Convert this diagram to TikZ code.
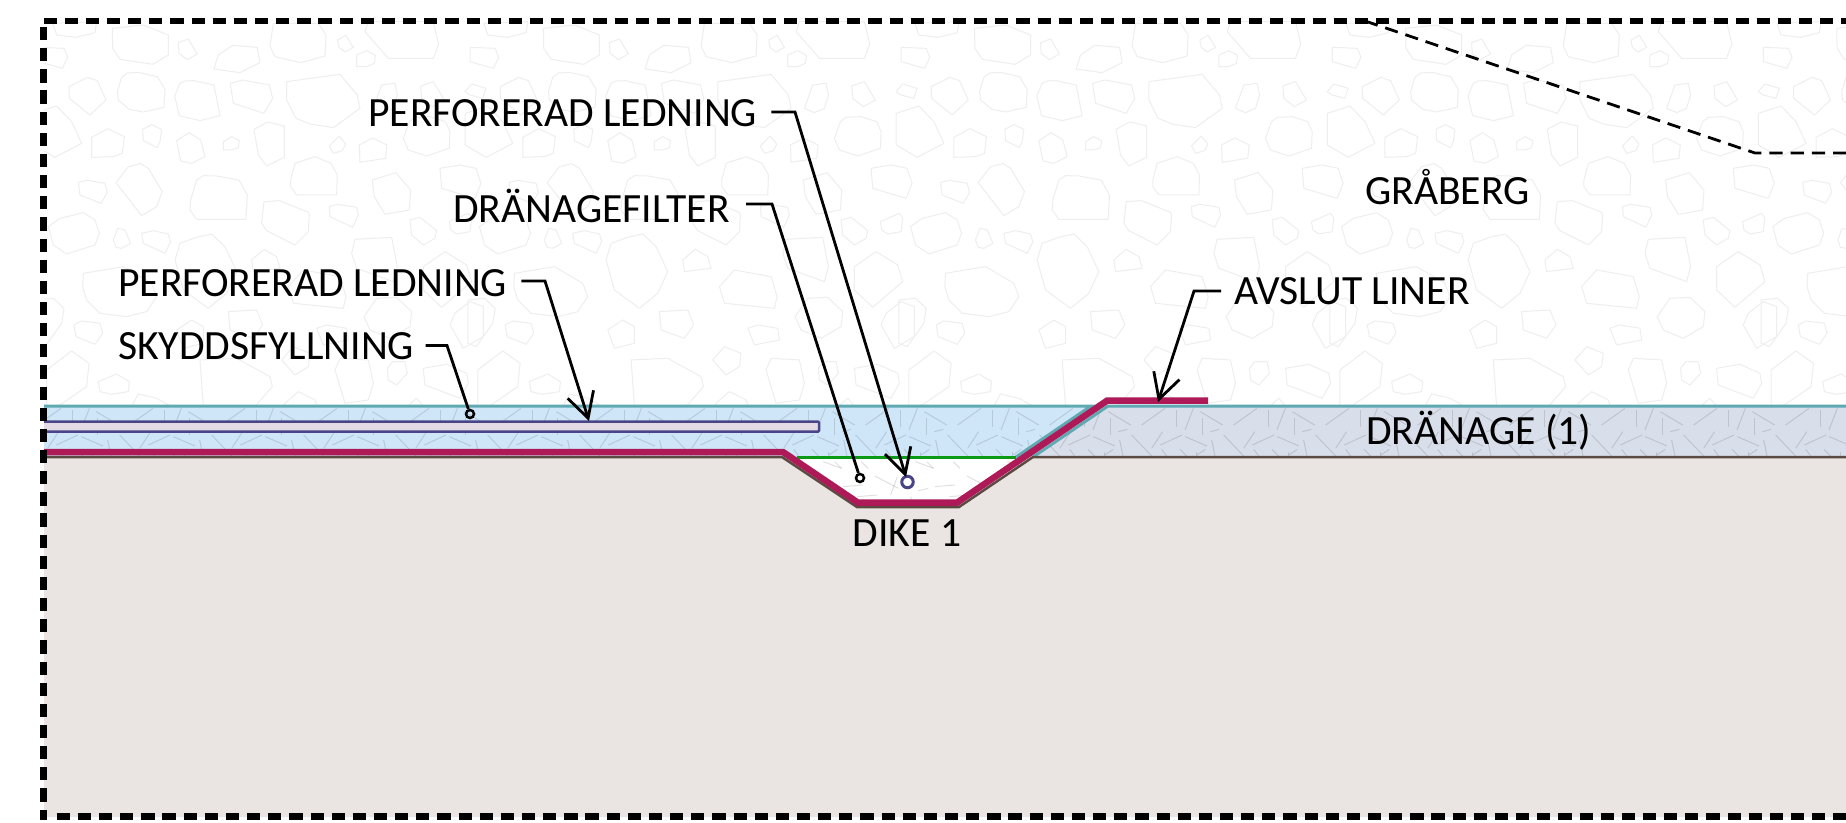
\documentclass[tikz,border=0pt]{standalone}
\usepackage{fontspec}
\setmainfont{Carlito}
\usetikzlibrary{arrows.meta}
\definecolor{rockc}{HTML}{EEEEEE}
\definecolor{bluef}{HTML}{CFE6F8}
\definecolor{grayf}{HTML}{D9DFEA}
\definecolor{groundf}{HTML}{EAE5E2}
\definecolor{tealc}{HTML}{5FA9B3}
\definecolor{linerc}{HTML}{AD1A57}
\definecolor{brownc}{HTML}{5A4A42}
\definecolor{greenc}{HTML}{0A9A14}
\definecolor{pipef}{HTML}{E2DBE4}
\definecolor{pipec}{HTML}{4A4588}
\tikzset{
  x=1pt,y=-1pt,
  framedash/.style={line width=6.5pt,dash pattern=on 13.2pt off 7.95pt},
  rock/.style={draw=rockc,line width=1pt,line join=round},
  hatchl/.style={draw=black,draw opacity=.12,line width=1pt},
  tealln/.style={draw=tealc,line width=3pt},
  liner/.style={draw=linerc,line width=6.5pt,line join=miter},
  soil/.style={draw=brownc,line width=2.5pt,line join=miter},
  leader/.style={draw=black,line width=2.8pt,line join=miter},
  barbed/.style={leader,-{Straight Barb[length=25pt,width=27pt,line width=2.8pt]}},
  lbl/.style={font=\fontsize{41.6}{44}\selectfont,inner sep=0pt,text height=27.4pt,text depth=0pt,text=black},
  dotb/.style={circle,draw=black,line width=2.5pt,fill=none,inner sep=0pt,minimum size=8pt},
  doti/.style={circle,draw=pipec,line width=3pt,fill=white,inner sep=0pt,minimum size=11.5pt},
}
\newcommand{\rp}[1]{\draw[rock] #1 -- cycle;}
\newcommand{\rocktile}{%
\rp{(38,10)--(50,45)--(108,52)--(165,38)--(170,5)}
\rp{(217,25)--(310,15)--(385,45)--(385,105)--(338,133)--(240,118)--(218,85)}
\rp{(415,68)--(445,57)--(472,102)--(442,119)--(417,100)}
\rp{(522,147)--(535,105)--(578,76)--(652,82)--(660,128)--(600,158)}
\rp{(690,78)--(700,10)--(835,10)--(858,45)--(855,108)--(782,128)--(705,110)}
\rp{(893,60)--(918,46)--(940,82)--(915,96)--(897,82)}
\rp{(950,105)--(980,92)--(1006,106)--(1003,130)--(980,140)--(950,140)}
\rp{(975,35)--(985,5)--(1180,5)--(1196,72)--(1180,115)--(1045,115)}
\rp{(-3,82)--(72,85)--(83,112)--(67,145)--(-3,125)}
\rp{(87,200)--(143,172)--(172,182)--(198,240)--(150,285)--(88,235)}
\rp{(232,215)--(245,172)--(262,159)--(295,157)--(352,170)--(375,208)--(372,262)--(310,276)--(268,268)--(235,240)}
\rp{(404,228)--(420,190)--(435,183)--(462,182)--(522,195)--(540,287)--(480,302)--(418,287)}
\rp{(571,190)--(608,180)--(688,195)--(698,235)--(672,280)--(580,250)}
\rp{(740,185)--(900,163)--(952,225)--(960,265)--(880,323)--(810,312)--(768,295)--(740,240)}
\rp{(1275,215)--(1295,192)--(1338,205)--(1328,235)--(1290,225)}
\rp{(1000,265)--(1025,195)--(1065,190)--(1072,225)--(1060,265)--(1030,278)}
\rp{(1142,198)--(1180,185)--(1213,240)--(1177,260)--(1145,235)}
\rp{(-18,280)--(50,258)--(95,305)--(125,370)--(45,412)--(-18,375)}
\rp{(155,352)--(203,326)--(253,350)--(247,400)--(220,410)--(155,412)}
\rp{(308,328)--(335,314)--(365,328)--(360,365)--(352,383)--(310,362)}
\rp{(410,362)--(447,338)--(482,360)--(495,410)--(455,430)--(422,423)}
\rp{(550,365)--(575,350)--(598,362)--(595,383)--(575,390)--(550,390)}
\rp{(642,328)--(683,306)--(733,318)--(733,412)--(680,438)--(655,405)}
\rp{(868,378)--(897,348)--(917,372)--(907,392)--(880,400)}
\rp{(958,375)--(998,354)--(1041,375)--(1037,415)--(960,427)}
\rp{(1090,355)--(1108,305)--(1125,292)--(1170,290)--(1217,305)--(1230,335)--(1228,385)--(1160,408)--(1105,390)}
\rp{(1200,445)--(1260,435)--(1308,445)--(1323,490)--(1305,535)--(1205,505)}
\rp{(115,487)--(142,481)--(195,490)--(202,518)--(183,550)--(120,525)}
\rp{(228,488)--(265,440)--(302,431)--(325,445)--(367,515)--(350,560)--(305,587)}
\rp{(452,540)--(470,480)--(490,467)--(530,468)--(597,480)--(622,525)--(618,598)--(470,598)--(450,570)}
\rp{(752,480)--(765,430)--(825,410)--(873,430)--(892,465)--(890,525)--(770,525)--(752,500)}
\rp{(997,480)--(1068,458)--(1112,510)--(1108,570)--(1035,583)--(1003,530)}
\rp{(665,610)--(672,545)--(718,542)--(805,577)--(808,585)--(805,635)--(765,675)--(680,632)}
\rp{(868,560)--(892,553)--(950,562)--(955,585)--(938,622)--(870,590)}
\rp{(1110,600)--(1140,592)--(1190,632)--(1185,655)--(1150,675)--(1115,645)}
\rp{(1228,605)--(1285,580)--(1295,595)--(1290,635)--(1250,642)--(1232,630)}
\rp{(25,620)--(60,595)--(130,578)--(165,600)--(178,640)--(165,675)--(80,702)--(40,675)}
\rp{(220,660)--(233,625)--(255,630)--(272,670)--(245,685)--(228,682)}
\rp{(305,640)--(340,632)--(385,642)--(392,665)--(375,700)--(310,670)}
\rp{(405,720)--(420,670)--(470,652)--(515,642)--(555,680)--(590,755)--(560,820)--(505,865)--(430,810)}
\rp{(130,760)--(250,740)--(335,790)--(350,830)--(320,875)--(260,890)--(180,880)--(140,840)--(128,800)}
\rp{(635,720)--(672,688)--(710,710)--(720,745)--(640,755)}
\rp{(935,700)--(945,658)--(1055,652)--(1072,740)--(1060,785)--(950,745)}
\rp{(1150,740)--(1215,695)--(1280,735)--(1295,785)--(1205,862)--(1150,810)}
\rp{(745,800)--(760,850)--(910,865)--(918,830)--(900,770)--(790,750)}
\rp{(-10,840)--(40,835)--(72,865)--(65,910)--(15,980)--(-10,970)}
\rp{(972,890)--(1010,835)--(1070,832)--(1115,875)--(1110,920)--(1050,955)--(990,930)}
\rp{(565,875)--(650,870)--(668,915)--(640,955)--(570,930)}
\rp{(102,915)--(125,903)--(180,910)--(188,940)--(165,973)--(108,950)}
\rp{(410,930)--(455,900)--(490,920)--(490,970)--(430,985)}
\rp{(830,925)--(860,915)--(920,925)--(925,960)--(850,975)}
\rp{(725,1020)--(760,980)--(810,1000)--(805,1040)--(765,1065)}
\rp{(20,1160)--(20,1050)--(95,993)--(147,1030)--(140,1100)--(60,1155)}
\rp{(175,1085)--(230,1062)--(268,1085)--(265,1115)--(215,1123)--(180,1115)}
\rp{(480,1020)--(590,1015)--(690,1070)--(697,1100)--(645,1160)--(490,1160)}
\rp{(885,1050)--(900,1015)--(985,1020)--(1000,1090)--(985,1140)--(915,1150)}
\rp{(1042,1045)--(1058,1025)--(1095,1025)--(1102,1060)--(1070,1095)--(1045,1080)}
\rp{(1150,1045)--(1220,1033)--(1280,1060)--(1285,1090)--(1260,1135)--(1155,1095)}
\rp{(275,1170)--(280,1150)--(295,1122)--(350,1135)--(395,1160)--(400,1175)}
\rp{(730,1170)--(735,1150)--(775,1115)--(825,1140)--(835,1170)}
\rp{(1090,1170)--(1130,1135)--(1160,1170)}
\rp{(1230,915)--(1245,880)--(1290,845)--(1330,860)--(1330,950)--(1270,985)}
}
\newcommand{\hl}[2]{\draw[hatchl] #1 -- #2;}
\newcommand{\hatchtile}{%
\hl{(325,95)}{(392,135)}\hl{(425,135)}{(495,85)}\hl{(530,90)}{(530,140)}
\hl{(555,150)}{(580,85)}\hl{(330,115)}{(330,165)}\hl{(355,155)}{(382,148)}
\hl{(395,165)}{(455,228)}\hl{(455,205)}{(488,155)}\hl{(481,195)}{(546,165)}
\hl{(556,170)}{(621,198)}\hl{(359,180)}{(369,228)}\hl{(485,208)}{(500,228)}
\hl{(540,208)}{(560,228)}\hl{(590,215)}{(590,228)}\hl{(315,225)}{(340,208)}
\hl{(574,245)}{(629,265)}\hl{(453,288)}{(523,325)}\hl{(583,332)}{(613,325)}
\hl{(357,320)}{(417,315)}\hl{(332,245)}{(352,265)}\hl{(412,245)}{(432,265)}
\hl{(520,290)}{(500,345)}\hl{(400,350)}{(460,345)}\hl{(560,350)}{(570,380)}
}
\begin{document}
\begin{tikzpicture}
\useasboundingbox (0,0) rectangle (1846,822);
\fill[white] (0,0) rectangle (1846,822);
% rock texture
\begin{scope}
\clip (43.5,21) rectangle (1846,406);
\foreach \i in {0,...,4}{
  \begin{scope}[shift={(40+431.1*\i,20)},x=.3333pt,y=-.3333pt]
    \rocktile
  \end{scope}
}
\end{scope}
% ground and layers
\fill[groundf] (44,457) -- (782,457) -- (857,507) -- (959,507) -- (1033,457) -- (1846,457) -- (1846,817) -- (44,817) -- cycle;
\fill[bluef] (44,406) -- (1091,406) -- (1016,457) -- (797,457) -- (782,457) -- (44,457) -- cycle;
\fill[grayf] (1108,406) -- (1846,406) -- (1846,457) -- (1033,457) -- cycle;
% hatch texture
\begin{scope}
\clip (44,406) -- (1846,406) -- (1846,457) -- (1033,457) -- (959,507) -- (857,507) -- (782,457) -- (44,457) -- cycle;
\foreach \i in {0,...,20}{
  \begin{scope}[shift={(1000+92*\i-92*13,380)},x=.3333pt,y=-.3333pt]
    \hatchtile
  \end{scope}
}
\end{scope}
% layer lines
\draw[tealln] (44,406) -- (1091,406) -- (1016,457);
\draw[tealln] (1033,457) -- (1108,406) -- (1846,406);
\draw[greenc,line width=3pt] (797,457) -- (1016,457);
\draw[pipec,line width=2.5pt,fill=pipef,rounded corners=1pt] (44,421.7) -- (819,421.7) -- (819,431.7) -- (44,431.7);
\draw[soil] (44,457) -- (782,457) -- (857,507) -- (959,507) -- (1033,457) -- (1846,457);
\draw[liner] (44,452) -- (783,452) -- (858,502.7) -- (957,502.7) -- (1107,400.7) -- (1208,400.7);
% dashed frame
\draw[framedash] (43.5,21) -- (1846,21);
\draw[framedash] (43.5,27) -- (43.5,820);
\draw[framedash] (56.7,816.7) -- (1846,816.7);
\draw[black,line width=2.8pt,dash pattern=on 13.3pt off 8pt] (1365,21) -- (1755,153) -- (1846,153);
% labels
\node[lbl,anchor=west] (pl1) at (368,113) {PERFORERAD LEDNING};
\node[lbl,anchor=west] (df) at (453,209) {DRÄNAGEFILTER};
\node[lbl,anchor=west] (pl2) at (118,282.5) {PERFORERAD LEDNING};
\node[lbl,anchor=west] (sf) at (118,345.5) {SKYDDSFYLLNING};
\node[lbl,anchor=west] (al) at (1234,291) {AVSLUT LINER};
\node[lbl,anchor=west] (gb) at (1365,191) {GRÅBERG};
\node[lbl,anchor=west] (dr) at (1366,431) {DRÄNAGE (1)};
\node[lbl,anchor=center] (dk) at (907,532.5) {DIKE 1};
% connector ends
\node[dotb] (dsf) at (470,414) {};
\node[dotb] (ddf) at (860,478) {};
\node[doti] (dpl) at (907.5,482) {};
\coordinate (kpl1) at (795,112);
\coordinate (kdf) at (772,204);
\coordinate (kpl2) at (545,281);
\coordinate (ksf) at (447,345.5);
\coordinate (kal) at (1194,291);
\coordinate (tpl1) at (906,477);
\coordinate (tpl2) at (589,421);
\coordinate (tal) at (1158,402);
\draw[barbed] ([xshift=14pt]pl1.east |- kpl1) -- (kpl1) -- (tpl1);
\draw[leader] ([xshift=16pt]df.east |- kdf) -- (kdf) -- (ddf);
\draw[barbed] ([xshift=14pt]pl2.east |- kpl2) -- (kpl2) -- (tpl2);
\draw[leader] ([xshift=11pt]sf.east |- ksf) -- (ksf) -- (dsf);
\draw[barbed] ([xshift=-13pt]al.west |- kal) -- (kal) -- (tal);
\end{tikzpicture}
\end{document}
